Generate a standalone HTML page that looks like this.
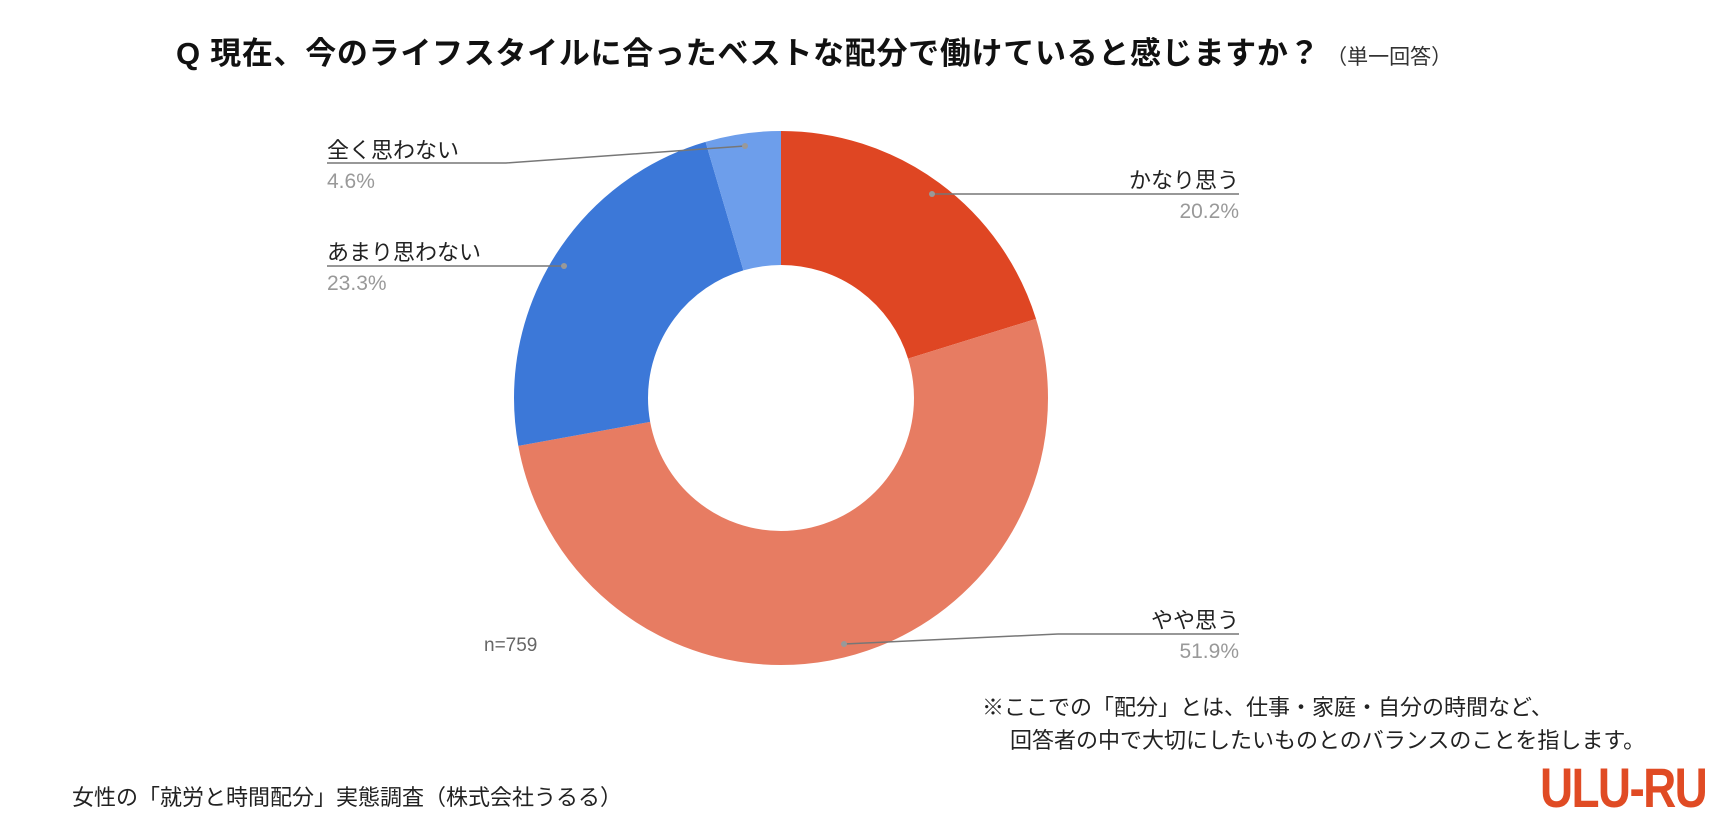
<!DOCTYPE html>
<html><head><meta charset="utf-8"><style>
body{margin:0;background:#fff;width:1726px;height:838px;overflow:hidden;position:relative;font-family:"Liberation Sans","Noto Sans CJK JP",sans-serif}
.t{position:absolute;white-space:nowrap}
.lab{font-size:22px;color:#222}
.pct{font-size:21px;color:#999}
</style></head><body>
<div class="t" style="left:176px;top:28px;font-size:31px;font-weight:bold;color:#111;letter-spacing:0.7px">Q 現在、今のライフスタイルに合ったベストな配分で働けていると感じますか？<span style="font-weight:normal;font-size:21px;color:#333;letter-spacing:0"> （単一回答）</span></div>
<svg width="1726" height="838" style="position:absolute;left:0;top:0">
<g transform="rotate(-90 781 398)" fill="none" stroke-width="134">
<circle cx="781" cy="398" r="200" stroke="#DF4623" stroke-dasharray="253.84 2000" stroke-dashoffset="0"/>
<circle cx="781" cy="398" r="200" stroke="#E77C62" stroke-dasharray="652.19 2000" stroke-dashoffset="-253.84"/>
<circle cx="781" cy="398" r="200" stroke="#3C78D8" stroke-dasharray="292.80 2000" stroke-dashoffset="-906.03"/>
<circle cx="781" cy="398" r="200" stroke="#6D9EEB" stroke-dasharray="57.81 2000" stroke-dashoffset="-1198.83"/>
</g>
<g stroke="#777" stroke-width="1.5" fill="none">
<polyline points="327,163 506,163 745,146"/>
<polyline points="932,194 1239,194"/>
<polyline points="327,266 564,266"/>
<polyline points="844,644 1058,634 1239,634"/>
</g>
<g fill="#999"><circle cx="745" cy="146" r="3"/><circle cx="932" cy="194" r="3"/><circle cx="564" cy="266" r="3"/><circle cx="844" cy="644" r="3"/></g>
</svg>
<div class="t lab" style="left:327px;top:133px">全く思わない</div>
<div class="t pct" style="left:327px;top:170px">4.6%</div>
<div class="t lab" style="right:487px;top:163px">かなり思う</div>
<div class="t pct" style="right:487px;top:200px">20.2%</div>
<div class="t lab" style="left:327px;top:235px">あまり思わない</div>
<div class="t pct" style="left:327px;top:272px">23.3%</div>
<div class="t lab" style="right:487px;top:603px">やや思う</div>
<div class="t pct" style="right:487px;top:640px">51.9%</div>
<div class="t" style="left:484px;top:635px;font-size:19px;color:#666">n=759</div>
<div class="t" style="left:982px;top:690px;font-size:22px;color:#222">※ここでの「配分」とは、仕事・家庭・自分の時間など、</div>
<div class="t" style="left:1010px;top:723px;font-size:22px;color:#222">回答者の中で大切にしたいものとのバランスのことを指します。</div>
<div class="t" style="left:72px;top:780px;font-size:22px;color:#222">女性の「就労と時間配分」実態調査（株式会社うるる）</div>
<div class="t" style="left:1540px;top:755px;font-size:56px;font-weight:bold;color:#E04B24;letter-spacing:-2px;transform:scaleX(0.82);transform-origin:left">ULU-RU</div>
</body></html>
